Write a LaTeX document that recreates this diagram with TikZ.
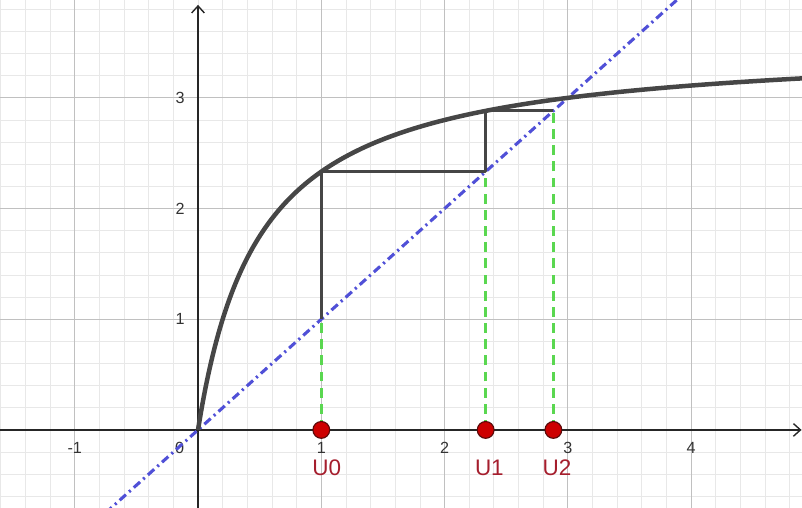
\documentclass[tikz,border=0pt]{standalone}
\usepackage{fontspec}
\setmainfont{Liberation Sans}
\usepackage{tikz}
\usetikzlibrary{arrows.meta,calc}
\definecolor{curvegray} {RGB}{70,70,70}
\definecolor{diagblue}  {RGB}{80,80,215}
\definecolor{dashgreen} {RGB}{90,215,80}
\definecolor{ptred}     {RGB}{205,0,0}
\definecolor{ptrim}     {RGB}{90,10,10}
\definecolor{lblred}    {RGB}{165,30,45}
\definecolor{minorgray} {RGB}{232,232,232}
\definecolor{majorgray} {RGB}{192,192,192}
\tikzset{
  minorgrid/.style={draw=minorgray, line width=0.6pt},
  majorgrid/.style={draw=majorgray, line width=0.8pt},
  axisline/.style ={draw=black!85, line width=1pt},
  axarr/.style    ={axisline, -{Straight Barb[length=5pt, width=9pt]}},
  ticklbl/.style  ={font=\fontsize{11.5}{13}\selectfont, text=black!80, inner sep=0pt},
  curveline/.style={draw=curvegray, line width=3.2pt},
  diagline/.style ={draw=diagblue, line width=2.2pt,
                    dash pattern=on 6pt off 3pt on 1.5pt off 3pt},
  webline/.style  ={draw=curvegray, line width=2pt},
  greendash/.style={draw=dashgreen, line width=2.5pt, dash pattern=on 7pt off 4.5pt},
  upoint/.style   ={circle, fill=ptred, draw=ptrim, line width=0.8pt,
                    minimum size=0.42cm, inner sep=0pt},
  ulbl/.style     ={font=\fontsize{16}{18}\selectfont, text=lblred, inner sep=0pt},
}

\begin{document}
\begin{tikzpicture}[x=3.0825cm, y=2.7675cm]

\useasboundingbox (-1.606,-0.705) rectangle (4.899,3.884);
\clip (-1.606,-0.705) rectangle (4.899,3.884);

%% ─── Grid ────────────────────────────────────────────────────────────────────
\foreach \i in {-8,...,24}{
  \draw[minorgrid] (\i/5,-0.705) -- (\i/5,3.884);
}
\foreach \j in {-3,...,19}{
  \draw[minorgrid] (-1.606,\j/5) -- (4.899,\j/5);
}
\foreach \i in {-1,1,2,3,4}{
  \draw[majorgrid] (\i,-0.705) -- (\i,3.884);
}
\foreach \j in {1,2,3}{
  \draw[majorgrid] (-1.606,\j) -- (4.899,\j);
}

%% ─── Axes ────────────────────────────────────────────────────────────────────
\coordinate (O)    at (0,0);
\coordinate (xbeg) at (-1.606,0);
\coordinate (xend) at (4.895,0);
\coordinate (ybeg) at (0,-0.705);
\coordinate (yend) at (0,3.84);
\draw[axarr] (xbeg) -- (xend);
\draw[axarr] (ybeg) -- (yend);

\foreach \i/\t in {-1/-1, 1/1, 2/2, 3/3, 4/4}{
  \node[ticklbl] (xt\i) at (\i,-0.163) {\t};
}
\node[ticklbl] (xt0) at (-0.15,-0.163) {0};
\foreach \j in {1,2,3}{
  \node[ticklbl] (yt\j) at (-0.145,\j) {\j};
}

%% ─── Line y = x and curve ────────────────────────────────────────────────────
\coordinate (dlo) at (-0.75,-0.75);
\coordinate (dhi) at (3.95,3.95);
\draw[diagline] (dlo) -- (dhi);

\draw[curveline] plot[domain=0:4.95, samples=220, smooth]
  (\x, {7*\x/(2*\x+1)});

%% ─── Cobweb ──────────────────────────────────────────────────────────────────
\coordinate (A0) at (1,1);
\coordinate (B0) at (1,7/3);
\coordinate (A1) at (7/3,7/3);
\coordinate (B1) at (7/3,49/17);
\coordinate (A2) at (49/17,49/17);
\coordinate (P0) at (1,0);
\coordinate (P1) at (7/3,0);
\coordinate (P2) at (49/17,0);

\draw[webline, line join=round] (A0) -- (B0) -- (A1) -- (B1) -- (A2);

\draw[greendash] (P0) -- (A0);
\draw[greendash] (P1) -- (A1);
\draw[greendash] (P2) -- (A2);

\node[upoint] (U0) at (P0) {};
\node[upoint] (U1) at (P1) {};
\node[upoint] (U2) at (P2) {};

\node[ulbl] (L0) at (1.045,-0.34) {U0};
\node[ulbl] (L1) at (7/3+0.03,-0.34) {U1};
\node[ulbl] (L2) at (49/17+0.03,-0.34) {U2};

\end{tikzpicture}
\end{document}
